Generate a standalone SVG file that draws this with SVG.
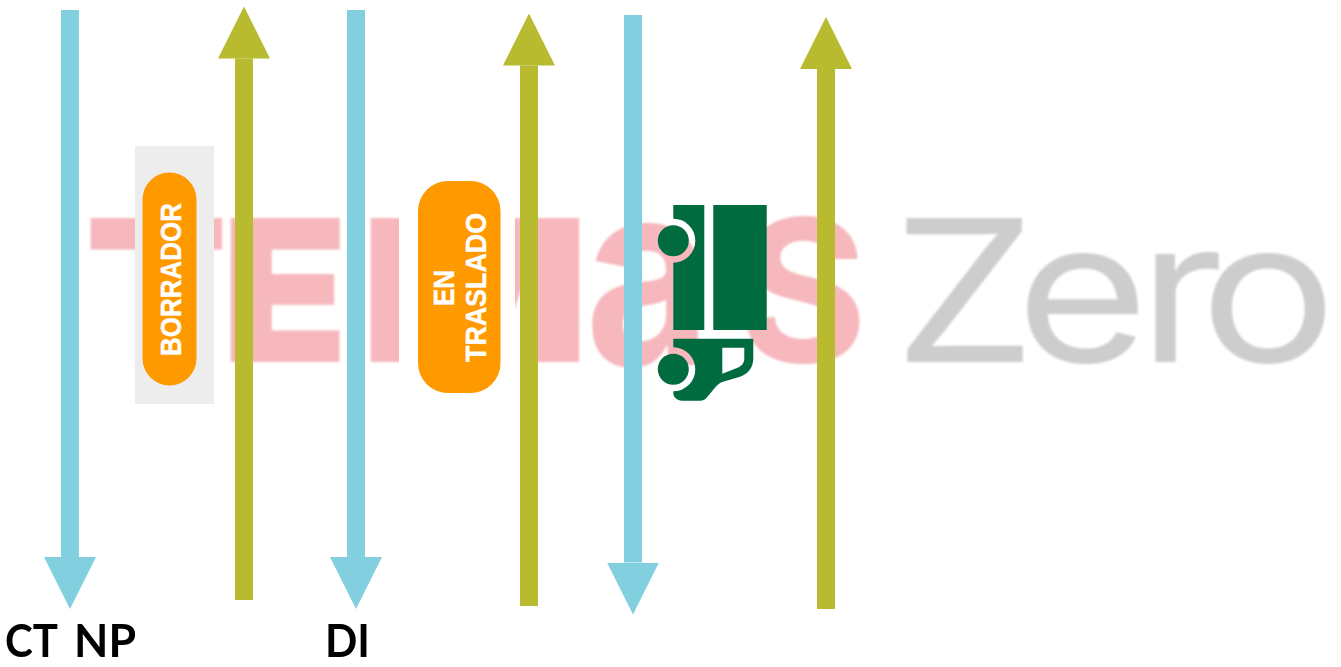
<svg xmlns="http://www.w3.org/2000/svg" width="1341" height="667" viewBox="0 0 1341 667">
  <style>
    .wm { font-family: Inter, "Liberation Sans", sans-serif; font-size: 198px; }
    .pink { fill: #f6b8bd; font-weight: 900; }
    .pink-open { fill: #f6b8bd; font-weight: 700; }
    .grey { fill: #cdcdcd; font-weight: 400; }
    .badge { fill: #ff9900; }
    .badge-text { font-family: "Liberation Sans", Arial, sans-serif; font-weight: 700; font-size: 29px; fill: #ffffff; stroke: #ffffff; stroke-width: 0.4; text-anchor: middle; }
    .label { font-family: Lato, "Open Sans", sans-serif; font-weight: 700; font-size: 45px; fill: #000000; }
    .truck { fill: #006b3f; }
    .down { stroke: #82cfdf; stroke-width: 18; fill: none; marker-end: url(#headBlue); }
    .up { stroke: #b8bb30; stroke-width: 18; fill: none; marker-end: url(#headOlive); }
  </style>
  <defs>
    <marker id="headBlue" markerUnits="userSpaceOnUse" markerWidth="52" markerHeight="52" viewBox="0 0 52 52" refX="0" refY="26" orient="auto"><path d="M0,0 L52,26 L0,52 Z" fill="#82cfdf"/></marker>
    <marker id="headOlive" markerUnits="userSpaceOnUse" markerWidth="52" markerHeight="52" viewBox="0 0 52 52" refX="0" refY="26" orient="auto"><path d="M0,0 L52,26 L0,52 Z" fill="#b8bb30"/></marker>
    <filter id="soft" x="-5%" y="-5%" width="110%" height="110%"><feGaussianBlur stdDeviation="0.9"/></filter>
  </defs>
  <rect width="1341" height="667" fill="#ffffff"/>

  <g id="watermark" filter="url(#soft)">
    <text class="wm pink" transform="translate(85,362) scale(1.05,1)">T</text>
    <text class="wm pink" transform="translate(221,362) scale(1.05,1)">E</text>
    <text class="wm pink" transform="translate(359.400,362) scale(1.22,1)">M</text>
    <text class="wm pink-open" transform="translate(585,365) scale(1.1,1.3)">a</text>
    <text class="wm pink-open" transform="translate(738,362) scale(1,1)">S</text>
    <text class="wm grey" transform="scale(1.15,1)" y="362" x="776.500 883.500 989.600 1043.500">Zero</text>
  </g>

  <g id="node-borrador">
    <rect x="135" y="146" width="79" height="258" fill="#ededed"/>
    <rect class="badge" x="142.500" y="172.500" width="54" height="213" rx="27"/>
    <text class="badge-text" transform="translate(181,279.500) rotate(-90)" textLength="153" lengthAdjust="spacingAndGlyphs">BORRADOR</text>
  </g>

  <g id="node-en-traslado">
    <rect x="399" y="170" width="116" height="230" fill="#ffffff"/>
    <rect class="badge" x="418" y="181" width="82.500" height="212" rx="30"/>
    <text class="badge-text" transform="translate(454,288) rotate(-90)" textLength="36" lengthAdjust="spacingAndGlyphs">EN</text>
    <text class="badge-text" transform="translate(486,287.500) rotate(-90)" textLength="149" lengthAdjust="spacingAndGlyphs">TRASLADO</text>
  </g>

  <g id="node-truck">
    <rect class="truck" x="713.300" y="205" width="53.400" height="125"/>
    <path class="truck" d="M673.300,205 H704.300 V330 H673.300 V262.700 A22,22 0 0 0 673.300,218.700 Z"/>
    <path class="truck" fill-rule="evenodd" d="M673.300,338.700 H753.300 V358 C753.300,368 748,374 740,376.700 L723,381.700 C716,384 713,391 708,396 C705.500,399.500 703,400.700 700,400.700 H682 C677,400.700 673.300,397 673.300,393 V391.300 A22,22 0 0 0 673.300,347.300 Z M722.300,347.700 H744.300 V358 C744.300,363 742,366 737,368 L722.300,373.700 Z"/>
    <circle class="truck" cx="673.300" cy="240.700" r="15.500"/>
    <circle class="truck" cx="673.300" cy="369.300" r="15.500"/>
  </g>

  <g id="connectors">
    <line class="down" x1="70" y1="10" x2="70" y2="557"/>
    <line class="up" x1="244" y1="600" x2="244" y2="58.500"/>
    <line class="down" x1="356" y1="10" x2="356" y2="557"/>
    <line class="up" x1="529" y1="606" x2="529" y2="65.500"/>
    <line class="down" x1="633" y1="15" x2="633" y2="562.500"/>
    <line class="up" x1="826" y1="609" x2="826" y2="69"/>
  </g>

  <g id="labels">
    <text class="label" x="5" y="657" textLength="53" lengthAdjust="spacingAndGlyphs">CT</text>
    <text class="label" x="74" y="657" textLength="62" lengthAdjust="spacingAndGlyphs">NP</text>
    <text class="label" x="325" y="657" textLength="45" lengthAdjust="spacingAndGlyphs">DI</text>
  </g>
</svg>
